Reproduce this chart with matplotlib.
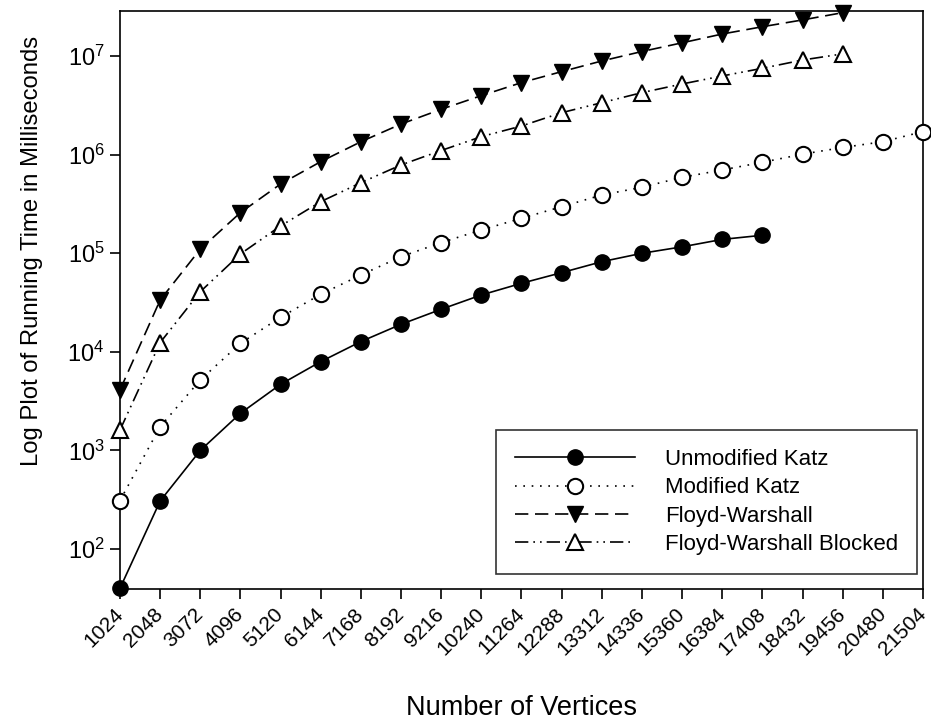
import matplotlib
matplotlib.use("Agg")
import matplotlib.pyplot as plt
from matplotlib.ticker import FixedLocator, LogFormatterMathtext, NullLocator

plt.rcParams['font.family'] = ['Liberation Sans', 'DejaVu Sans']
plt.rcParams['mathtext.fontset'] = 'custom'
plt.rcParams['mathtext.rm'] = 'Liberation Sans'
plt.rcParams['mathtext.it'] = 'Liberation Sans'
plt.rcParams['mathtext.default'] = 'regular'

vertices = [1024, 2048, 3072, 4096, 5120, 6144, 7168, 8192, 9216, 10240, 11264,
            12288, 13312, 14336, 15360, 16384, 17408, 18432, 19456, 20480, 21504]

unmodified_katz = [40, 307, 1000, 2380, 4680, 7950, 12700, 19000, 27000, 37700,
                   49500, 63500, 82000, 99800, 116000, 138000, 152000]
modified_katz = [310, 1740, 5180, 12200, 22400, 38300, 60100, 92200, 128000, 172000,
                 226000, 296000, 389000, 466000, 588000, 698000, 835000, 1010000,
                 1180000, 1350000, 1710000]
floyd_warshall = [4100, 33500, 110000, 258000, 503000, 848000, 1350000, 2040000,
                  2880000, 3960000, 5370000, 6940000, 8900000, 11100000, 13600000,
                  16700000, 19800000, 23200000, 27500000]
fw_blocked = [1610, 12400, 40700, 98200, 189000, 333000, 519000, 785000, 1100000,
              1520000, 1950000, 2660000, 3360000, 4250000, 5200000, 6270000,
              7500000, 9100000, 10500000]

labels = ["Unmodified Katz", "Modified Katz", "Floyd-Warshall", "Floyd-Warshall Blocked"]

fig = plt.figure(figsize=(9.31, 7.22), dpi=100)
ax = fig.add_axes([0.1289, 0.1842, 0.8625, 0.8006])

ms = 11
ax.plot(vertices[:len(unmodified_katz)], unmodified_katz, color='black', lw=1.2,
        linestyle='-', marker='o', ms=ms, mfc='black', mec='black', clip_on=False,
        label=labels[0], zorder=3)
ax.plot(vertices[:len(modified_katz)], modified_katz, color='black', lw=1.2,
        linestyle=(0, (1, 4)), marker='o', ms=ms, mfc='white', mec='black', mew=1.5,
        clip_on=False, label=labels[1], zorder=3)
ax.plot(vertices[:len(floyd_warshall)], floyd_warshall, color='black', lw=1.2,
        linestyle=(0, (8, 4)), marker='v', ms=ms, mfc='black', mec='black',
        clip_on=False, label=labels[2], zorder=3)
ax.plot(vertices[:len(fw_blocked)], fw_blocked, color='black', lw=1.2,
        linestyle=(0, (8, 3, 1, 3, 1, 3)), marker='^', ms=ms, mfc='white', mec='black',
        mew=1.5, clip_on=False, label=labels[3], zorder=3)

ax.set_yscale('log')
ax.set_xlim(1024, 21504)
ax.set_ylim(39.3, 2.86e7)
ax.set_xticks(vertices)
ax.set_xticklabels([str(v) for v in vertices], rotation=45, ha='right', va='center',
                   rotation_mode='anchor', fontsize=15)
ax.yaxis.set_major_locator(FixedLocator([1e2, 1e3, 1e4, 1e5, 1e6, 1e7]))
ax.yaxis.set_major_formatter(LogFormatterMathtext())
ax.yaxis.set_minor_locator(NullLocator())
ax.tick_params(axis='both', direction='out', length=7, width=1.2)
ax.tick_params(axis='y', labelsize=17, pad=4)
ax.tick_params(axis='x', pad=9)
for s in ax.spines.values():
    s.set_linewidth(1.2)

ax.set_xlabel("Number of Vertices", fontsize=19.5)
ax.xaxis.set_label_coords(0.5006, -0.184)
ax.set_ylabel("Log Plot of Running Time in Milliseconds", fontsize=17.2)
ax.yaxis.set_label_coords(-0.096, 0.585)

leg = ax.legend(loc='lower right', bbox_to_anchor=(0.9925, 0.026), fontsize=16,
                frameon=True, fancybox=False, edgecolor='black', handlelength=5.4,
                borderpad=0.85, labelspacing=0.33, handletextpad=1.35, borderaxespad=0)
leg.get_frame().set_linewidth(1.2)

fig.savefig("out.png", dpi=100)
